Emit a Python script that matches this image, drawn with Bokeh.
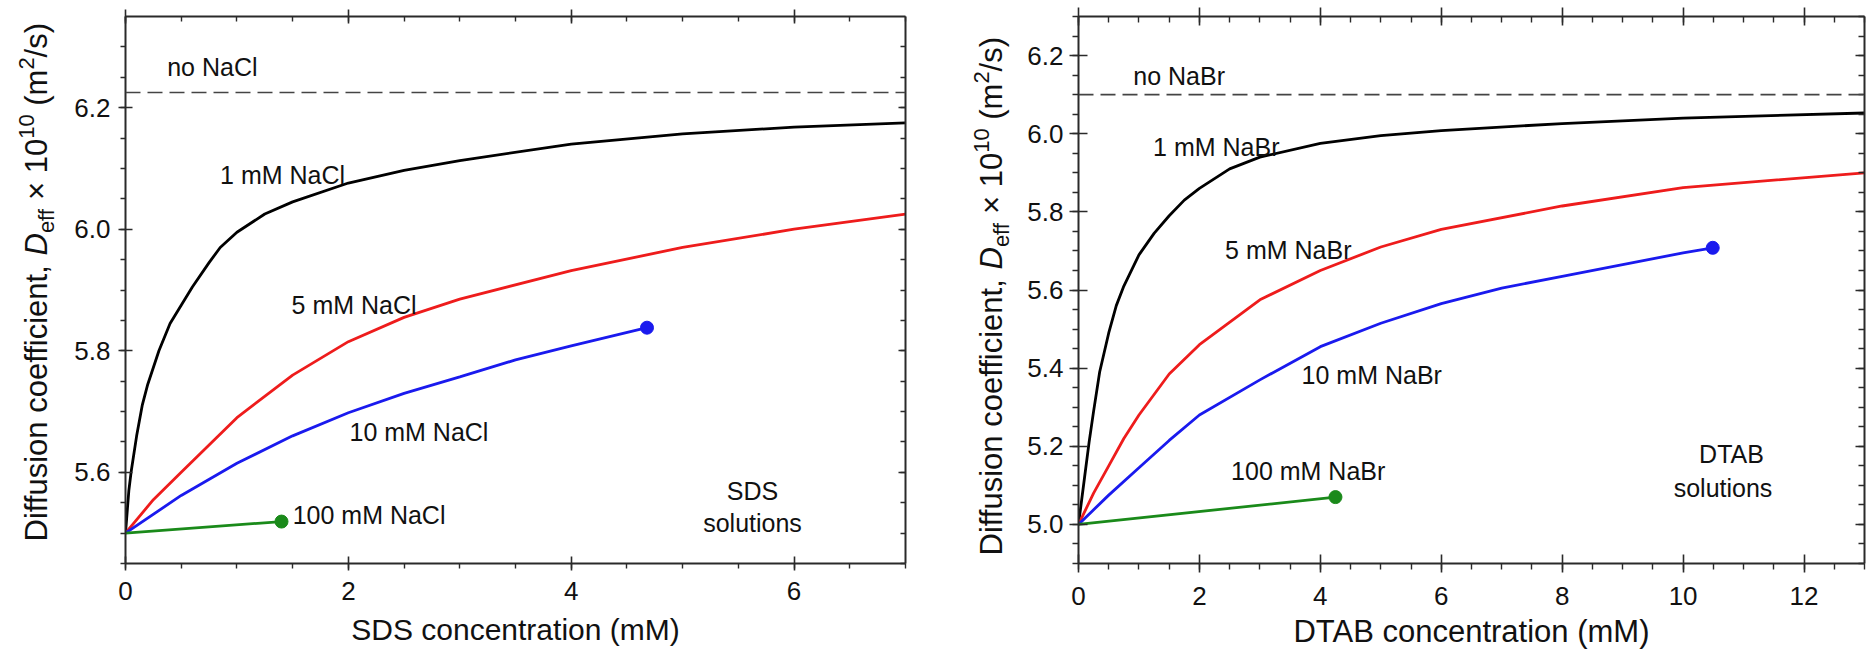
from bokeh.plotting import figure
from bokeh.models import Label, LinearAxis, SingleIntervalTicker, PrintfTickFormatter, Range1d, Span
from bokeh.layouts import row
from bokeh.embed import file_html
from bokeh.resources import INLINE
from math import pi

# ---------------- data: SDS panel ----------------
sds_1mM_x = [0, 0.03, 0.05, 0.1, 0.15, 0.2, 0.3, 0.4, 0.5, 0.6, 0.75, 0.85, 1.0, 1.25, 1.5, 2, 2.5, 3, 4, 5, 6, 7]
sds_1mM_y = [5.50, 5.57, 5.60, 5.66, 5.71, 5.745, 5.80, 5.845, 5.875, 5.905, 5.945, 5.97, 5.995, 6.025, 6.045, 6.076, 6.097, 6.113, 6.14, 6.157, 6.168, 6.175]
sds_5mM_x = [0, 0.25, 0.5, 0.75, 1, 1.5, 2, 2.5, 3, 4, 5, 6, 7]
sds_5mM_y = [5.50, 5.555, 5.60, 5.645, 5.69, 5.76, 5.815, 5.855, 5.885, 5.932, 5.97, 6.0, 6.025]
sds_10mM_x = [0, 0.5, 1, 1.5, 2, 2.5, 3, 3.5, 4, 4.68]
sds_10mM_y = [5.50, 5.562, 5.615, 5.66, 5.698, 5.73, 5.757, 5.785, 5.808, 5.838]
sds_100mM_x = [0, 1.4]
sds_100mM_y = [5.50, 5.519]
sds_no_salt = 6.225

# ---------------- data: DTAB panel ----------------
dtab_1mM_x = [0, 0.05, 0.1, 0.175, 0.25, 0.35, 0.5, 0.625, 0.75, 1, 1.25, 1.5, 1.75, 2, 2.5, 3, 4, 5, 6, 8, 10, 13]
dtab_1mM_y = [5.0, 5.06, 5.12, 5.21, 5.29, 5.39, 5.49, 5.56, 5.61, 5.69, 5.745, 5.79, 5.83, 5.86, 5.91, 5.94, 5.975, 5.995, 6.008, 6.026, 6.04, 6.053]
dtab_5mM_x = [0, 0.25, 0.5, 0.75, 1, 1.5, 2, 3, 4, 5, 6, 8, 10, 13]
dtab_5mM_y = [5.0, 5.08, 5.15, 5.22, 5.28, 5.385, 5.46, 5.575, 5.65, 5.71, 5.755, 5.815, 5.862, 5.90]
dtab_10mM_x = [0, 0.5, 1, 1.5, 2, 3, 4, 5, 6, 7, 8, 9, 10, 10.49]
dtab_10mM_y = [5.0, 5.075, 5.145, 5.215, 5.28, 5.37, 5.455, 5.515, 5.565, 5.605, 5.635, 5.665, 5.695, 5.708]
dtab_100mM_x = [0, 4.25]
dtab_100mM_y = [5.0, 5.07]
dtab_no_salt = 6.1

FONT = "Liberation Sans"
AX = "#2a2a2a"
TXT = "#111111"
BLACK, RED, BLUE, GREEN = "#000000", "#ee1c1c", "#1a1aee", "#1a8a1a"
H = 669
TOP, BOT = 16, 106            # shared borders (row aligns the frames)
FH = H - TOP - BOT            # frame height

AW = {'D': 722, 'i': 222, 'f': 278, 'u': 556, 's': 500, 'o': 556, 'n': 556, ' ': 278,
      'c': 500, 'e': 556, 't': 278, ',': 278, '×': 584, '1': 556, '0': 556, '(': 333,
      'm': 833, '2': 556, '/': 278, ')': 333}


def tw(s, size):
    return sum(AW.get(ch, 556) for ch in s) / 1000.0 * size


def style_axis(ax, mj_in, mj_out, mn_in, mn_out, standoff, labels=True, fs="26px"):
    ax.axis_line_color = AX
    ax.axis_line_width = 2
    ax.major_tick_line_color = AX
    ax.major_tick_line_width = 1.6
    ax.minor_tick_line_color = AX
    ax.minor_tick_line_width = 1.4
    ax.major_tick_in = mj_in
    ax.major_tick_out = mj_out
    ax.minor_tick_in = mn_in
    ax.minor_tick_out = mn_out
    ax.major_label_text_font = FONT
    ax.axis_label = None
    if labels:
        ax.major_label_text_color = TXT
        ax.major_label_text_font_size = fs
        ax.major_label_standoff = standoff
    else:
        ax.major_label_text_color = None
        ax.major_label_text_alpha = 0
        ax.major_label_text_font_size = "1px"
        ax.major_label_standoff = 0


def make_panel(xr, yr, fw, bl, br, xint, tick_len, mn_len, xstand, ystand,
               xtitle, xtitle_size, xtitle_standoff):
    p = figure(frame_width=fw, frame_height=FH, min_border_left=bl, min_border_right=br,
               min_border_top=TOP, min_border_bottom=BOT, x_range=Range1d(*xr), y_range=Range1d(*yr),
               toolbar_location=None, output_backend="svg", title=None)
    p.grid.visible = False
    p.outline_line_color = None
    p.background_fill_color = "white"
    p.border_fill_color = "white"
    xt = SingleIntervalTicker(interval=xint, num_minor_ticks=4)
    yt = SingleIntervalTicker(interval=0.2, num_minor_ticks=4)
    bottom = p.below[0]
    left = p.left[0]
    bottom.ticker = xt
    left.ticker = yt
    left.formatter = PrintfTickFormatter(format="%.1f")
    style_axis(bottom, tick_len, tick_len, 0, mn_len, xstand)
    style_axis(left, tick_len, tick_len, 0, mn_len, ystand)
    bottom.axis_label = xtitle
    bottom.axis_label_text_font = FONT
    bottom.axis_label_text_font_size = xtitle_size
    bottom.axis_label_text_font_style = "normal"
    bottom.axis_label_text_color = TXT
    bottom.axis_label_standoff = xtitle_standoff
    top = LinearAxis(ticker=xt)
    style_axis(top, tick_len, tick_len, mn_len, 0, 0, labels=False)
    p.add_layout(top, "above")
    right = LinearAxis(ticker=yt)
    style_axis(right, tick_len, 0, mn_len, 0, 0, labels=False)
    p.add_layout(right, "right")
    return p


def add_text(p, text, x, y, align="left", size="25px"):
    p.add_layout(Label(x=x, y=y, text=text, text_font=FONT, text_font_size=size,
                       text_align=align, text_baseline="middle", text_color=TXT))


def title_strip(width, base_x, start_y, big=31, small=22):
    """Narrow figure carrying the rotated y title; its frame is aligned with the panels,
    so one data unit is one pixel and y is measured up from the frame bottom.
    base_x is the wanted baseline; pieces are anchored at their middle line."""
    f = figure(frame_width=width, frame_height=FH, min_border_left=0, min_border_right=0,
               min_border_top=TOP, min_border_bottom=BOT,
               x_range=Range1d(0, width), y_range=Range1d(0, FH),
               x_axis_type=None, y_axis_type=None, toolbar_location=None, output_backend="svg",
               title=None)
    f.grid.visible = False
    f.outline_line_color = None
    pieces = [("Diffusion coefficient, ", big, "normal", 0),
              ("D", big, "italic", 0),
              ("eff", small, "normal", 7),
              (" × 10", big, "normal", 0),
              ("10", small, "normal", -13),
              (" (m", big, "normal", 0),
              ("2", small, "normal", -13),
              ("/s)", big, "normal", 0)]
    pos = 0.0
    y0 = (H - BOT) - start_y
    for text, size, st, shift in pieces:
        body = text.lstrip(" ")
        lead = tw(text[:len(text) - len(body)], size)
        ax = base_x + shift - 0.3465 * size
        f.add_layout(Label(x=ax, y=y0 + pos + lead, text=body.rstrip(" "), angle=pi / 2,
                           text_font=FONT, text_font_size=f"{size}px", text_font_style=st,
                           text_align="left", text_baseline="middle", text_color=TXT))
        pos += tw(text, size)
    return f


# ---------------- left panel ----------------
t1 = title_strip(60, 47, 541)
p1 = make_panel((0, 7), (5.45, 6.35), 780, 65, 10, 2, 7, 5, 11, 8,
                "SDS concentration (mM)", "30px", 10)
p1.add_layout(Span(location=sds_no_salt, dimension="width", line_color="#444444",
                   line_width=1.6, line_dash="15 7"))
p1.line(sds_1mM_x, sds_1mM_y, line_color=BLACK, line_width=2.8)
p1.line(sds_5mM_x, sds_5mM_y, line_color=RED, line_width=2.8)
p1.line(sds_10mM_x, sds_10mM_y, line_color=BLUE, line_width=2.8)
p1.line(sds_100mM_x, sds_100mM_y, line_color=GREEN, line_width=2.8)
p1.scatter([sds_10mM_x[-1]], [sds_10mM_y[-1]], size=13, color=BLUE)
p1.scatter([sds_100mM_x[-1]], [sds_100mM_y[-1]], size=13, color=GREEN)
add_text(p1, "no NaCl", 0.374, 6.267)
add_text(p1, "1 mM NaCl", 0.849, 6.090)
add_text(p1, "5 mM NaCl", 1.49, 5.876)
add_text(p1, "10 mM NaCl", 2.01, 5.667)
add_text(p1, "100 mM NaCl", 1.50, 5.530)
add_text(p1, "SDS", 5.627, 5.569, align="center")
add_text(p1, "solutions", 5.627, 5.516, align="center")

# ---------------- right panel ----------------
t2 = title_strip(103, 87, 555)
p2 = make_panel((0, 13), (4.9, 6.3), 786, 60, 5, 2, 9, 6, 14, 6,
                "DTAB concentration (mM)", "31px", 6)
p2.add_layout(Span(location=dtab_no_salt, dimension="width", line_color="#444444",
                   line_width=1.6, line_dash="15 7"))
p2.line(dtab_1mM_x, dtab_1mM_y, line_color=BLACK, line_width=2.8)
p2.line(dtab_5mM_x, dtab_5mM_y, line_color=RED, line_width=2.8)
p2.line(dtab_10mM_x, dtab_10mM_y, line_color=BLUE, line_width=2.8)
p2.line(dtab_100mM_x, dtab_100mM_y, line_color=GREEN, line_width=2.8)
p2.scatter([dtab_10mM_x[-1]], [dtab_10mM_y[-1]], size=13, color=BLUE)
p2.scatter([dtab_100mM_x[-1]], [dtab_100mM_y[-1]], size=13, color=GREEN)
add_text(p2, "no NaBr", 0.906, 6.147)
add_text(p2, "1 mM NaBr", 1.234, 5.967)
add_text(p2, "5 mM NaBr", 2.424, 5.703)
add_text(p2, "10 mM NaBr", 3.69, 5.382)
add_text(p2, "100 mM NaBr", 2.524, 5.137)
add_text(p2, "DTAB", 10.80, 5.180, align="center")
add_text(p2, "solutions", 10.66, 5.094, align="center")

layout = row(t1, p1, t2, p2)
open("out.html", "w").write(file_html(layout, INLINE))
